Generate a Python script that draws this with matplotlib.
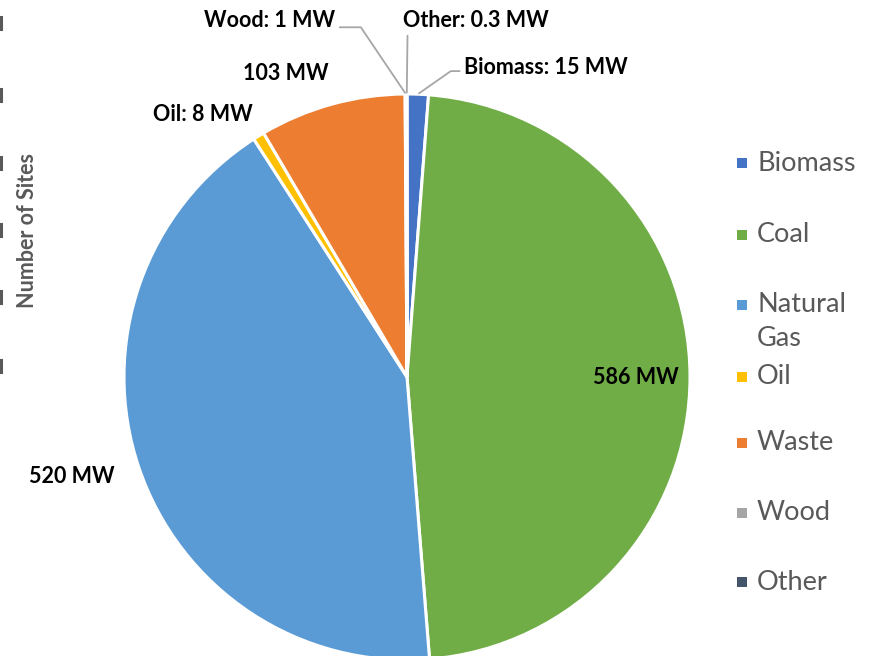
import matplotlib
matplotlib.use("Agg")
import matplotlib.pyplot as plt
from matplotlib.patches import Rectangle
from matplotlib.lines import Line2D
import numpy as np

plt.rcParams['font.family'] = ['Lato', 'DejaVu Sans']

fuels = ['Biomass', 'Coal', 'Natural Gas', 'Oil', 'Waste', 'Wood', 'Other']
capacity_mw = [15, 586, 520, 8, 103, 1, 0.3]
colors = ['#4472C4', '#70AD47', '#5B9BD5', '#FFC000', '#ED7D31', '#A5A5A5', '#44546A']
show_name = [True, False, False, True, False, True, True]

# label centres in pie units (radius 1)
label_pos = [(0.49, 1.092), (0.81, 0.0), (-1.184, -0.353), (-0.72, 0.929),
             (-0.428, 1.071), (-0.484, 1.258), (0.244, 1.258)]
# leader lines for the thin slices: (relpos on text, connection style)
leaders = {
    0: ((0.0, 0.35), 'angle,angleA=180,angleB=35,rad=0'),
    5: ((1.0, 0.2), 'angle,angleA=0,angleB=124,rad=0'),
    6: ((0.03, 0.0), 'arc3,rad=0'),
}
LABEL_FS = 15.5

W, H = 880, 656
fig = plt.figure(figsize=(W / 100, H / 100), dpi=100)

cx, cy, r = 407, 377, 283
ax = fig.add_axes([(cx - r) / W, (H - cy - r) / H, 2 * r / W, 2 * r / H])
wedges, _ = ax.pie(capacity_mw, colors=colors, startangle=90, counterclock=False,
                   radius=1, wedgeprops=dict(edgecolor='white', linewidth=2.2))
ax.set_xlim(-1, 1)
ax.set_ylim(-1, 1)
ax.set_aspect('equal')
ax.axis('off')

for i, (name, val) in enumerate(zip(fuels, capacity_mw)):
    txt = f"{name}: {val:g} MW" if show_name[i] else f"{val:g} MW"
    x, y = label_pos[i]
    if i in leaders:
        w = wedges[i]
        ang = np.deg2rad((w.theta1 + w.theta2) / 2)
        relpos, cs = leaders[i]
        ax.annotate(txt, xy=(np.cos(ang), np.sin(ang)), xytext=(x, y),
                    ha='center', va='center', fontsize=LABEL_FS, fontweight='bold',
                    color='black', annotation_clip=False,
                    arrowprops=dict(arrowstyle='-', color='#A6A6A6', lw=1.3,
                                    relpos=relpos, connectionstyle=cs,
                                    shrinkA=1, shrinkB=1))
    else:
        ax.text(x, y, txt, ha='center', va='center', fontsize=LABEL_FS,
                fontweight='bold', color='black', clip_on=False)

# legend on the right
leg_y = [163, 235, 305, 377, 443, 513, 582]
for name, col, ly in zip(fuels, colors, leg_y):
    fig.patches.append(Rectangle((737 / W, (H - ly - 5) / H), 10 / W, 10 / H,
                                 facecolor=col, edgecolor='none',
                                 transform=fig.transFigure))
    if name == 'Natural Gas':
        fig.text(757 / W, (H - ly) / H, 'Natural', fontsize=19.5, color='#595959', va='center')
        fig.text(757 / W, (H - ly - 34) / H, 'Gas', fontsize=19.5, color='#595959', va='center')
    else:
        fig.text(757 / W, (H - ly) / H, name, fontsize=19.5, color='#595959', va='center')

# axis title and the clipped tick marks of the neighbouring axis
fig.text(28 / W, (H - 230) / H, 'Number of Sites', rotation=90, fontsize=15.5,
         fontweight='bold', color='#595959', ha='center', va='center')
for ty in [23, 95, 163, 230, 297, 366]:
    fig.add_artist(Line2D([1 / W, 1 / W], [(H - ty - 6) / H, (H - ty + 6) / H],
                          color='#595959', lw=2.2, transform=fig.transFigure))

fig.savefig('out.png', dpi=100, facecolor='white')
